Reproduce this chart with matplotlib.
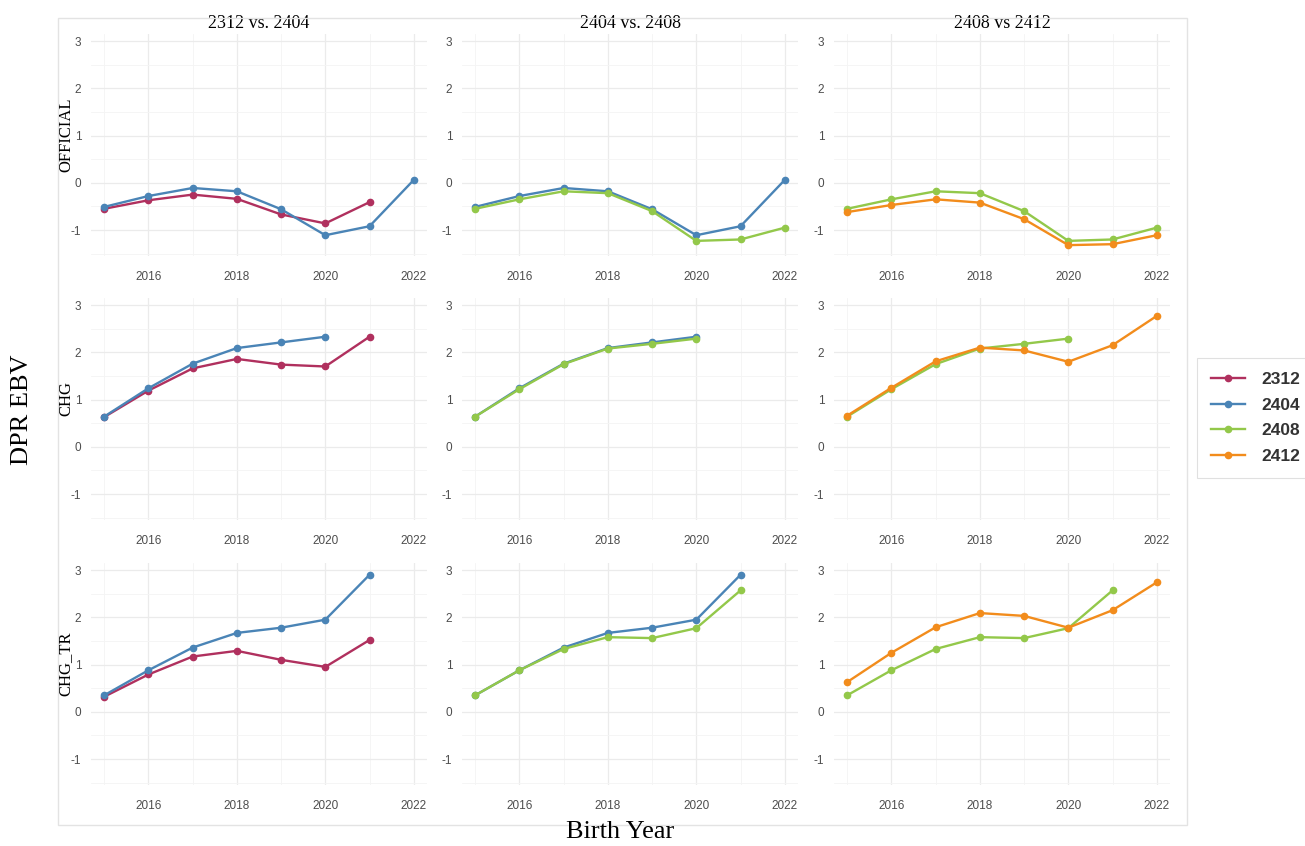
import matplotlib
matplotlib.use('Agg')
import matplotlib.pyplot as plt
from matplotlib.patches import Rectangle
from matplotlib.ticker import MultipleLocator

plt.rcParams['axes.unicode_minus'] = False  # plain hyphen like the original

# data
years = [2015, 2016, 2017, 2018, 2019, 2020, 2021, 2022]

official_2312 = [-0.55, -0.37, -0.25, -0.34, -0.67, -0.86, -0.41]
official_2404 = [-0.51, -0.28, -0.11, -0.18, -0.56, -1.11, -0.92, 0.06]
official_2408 = [-0.55, -0.35, -0.18, -0.22, -0.60, -1.23, -1.20, -0.95]
official_2412 = [-0.62, -0.47, -0.35, -0.42, -0.77, -1.32, -1.30, -1.11]

chg_2312 = [0.63, 1.19, 1.66, 1.86, 1.74, 1.70, 2.33]
chg_2404 = [0.64, 1.24, 1.76, 2.09, 2.21, 2.33]
chg_2408 = [0.64, 1.22, 1.75, 2.08, 2.18, 2.29]
chg_2412 = [0.66, 1.25, 1.81, 2.10, 2.04, 1.80, 2.15, 2.77]

chgtr_2312 = [0.32, 0.79, 1.17, 1.29, 1.10, 0.95, 1.52]
chgtr_2404 = [0.35, 0.88, 1.36, 1.67, 1.78, 1.95, 2.90]
chgtr_2408 = [0.35, 0.88, 1.33, 1.58, 1.56, 1.77, 2.57]
chgtr_2412 = [0.63, 1.25, 1.79, 2.09, 2.03, 1.78, 2.15, 2.74]

col_titles = ['2312 vs. 2404', '2404 vs. 2408', '2408 vs 2412']
row_titles = ['OFFICIAL', 'CHG', 'CHG_TR']
runs = ['2312', '2404', '2408', '2412']
colors = {'2312': '#B0305E', '2404': '#4A84B6', '2408': '#93C84A', '2412': '#F28C1C'}

data = {
    'OFFICIAL': {'2312': official_2312, '2404': official_2404, '2408': official_2408, '2412': official_2412},
    'CHG': {'2312': chg_2312, '2404': chg_2404, '2408': chg_2408, '2412': chg_2412},
    'CHG_TR': {'2312': chgtr_2312, '2404': chgtr_2404, '2408': chgtr_2408, '2412': chgtr_2412},
}
pairs = [('2312', '2404'), ('2404', '2408'), ('2408', '2412')]

W, H = 1305, 846
fig = plt.figure(figsize=(W / 100, H / 100), dpi=100)

col_x = [(91, 427), (462, 798), (834, 1170)]
row_y = [(34, 256), (298, 520), (563, 785)]

# light frame around the panel block
fig.patches.append(Rectangle((58 / W, 1 - 825 / H), (1187 - 58) / W, (825 - 18) / H,
                             transform=fig.transFigure, fill=False, edgecolor='#E3E3E3', lw=1))

handles = {}
for r, row in enumerate(row_titles):
    for c, pair in enumerate(pairs):
        x0, x1 = col_x[c]
        y0, y1 = row_y[r]
        ax = fig.add_axes([x0 / W, 1 - y1 / H, (x1 - x0) / W, (y1 - y0) / H])
        for run in pair:
            vals = data[row][run]
            ln, = ax.plot(years[:len(vals)], vals, color=colors[run], lw=1.7,
                          marker='o', ms=4.5, zorder=3)
            handles[run] = ln
        ax.set_xlim(2014.7, 2022.3)
        ax.set_ylim(-1.55, 3.15)
        ax.set_xticks([2016, 2018, 2020, 2022])
        ax.set_yticks([-1, 0, 1, 2, 3])
        ax.xaxis.set_minor_locator(MultipleLocator(1))
        ax.yaxis.set_minor_locator(MultipleLocator(0.5))
        ax.grid(which='major', color='#EBEBEB', lw=0.9)
        ax.grid(which='minor', color='#F4F4F4', lw=0.6)
        ax.set_axisbelow(True)
        for s in ax.spines.values():
            s.set_visible(False)
        ax.tick_params(which='both', length=0)
        ax.tick_params(axis='x', pad=11, labelsize=8.5, labelcolor='#4D4D4D')
        ax.tick_params(axis='y', pad=7, labelsize=8.5, labelcolor='#4D4D4D')
        for lab in ax.get_xticklabels() + ax.get_yticklabels():
            lab.set_family('Liberation Sans')
        if r == 0:
            ax.set_title(col_titles[c], family='Liberation Serif', fontsize=13, pad=4)
        if c == 0:
            fig.text(66 / W, 1 - ((y0 + y1) / 2 - 10) / H, row, rotation=90,
                     family='Liberation Serif', fontsize=12, ha='center', va='center')

fig.text(22 / W, 1 - 410 / H, 'DPR EBV', rotation=90, family='Liberation Serif',
         fontsize=19, ha='center', va='center')
fig.text(620 / W, 1 - 832 / H, 'Birth Year', family='Liberation Serif',
         fontsize=19, ha='center', va='center')

leg = fig.legend([handles[k] for k in runs], runs, loc='center left',
                 bbox_to_anchor=(1188 / W, 1 - 418 / H), frameon=True, fancybox=False,
                 prop={'family': 'Liberation Sans', 'size': 12.5, 'weight': 'bold'},
                 handlelength=2.0, handletextpad=0.9, labelspacing=0.6, borderpad=0.8)
leg.get_frame().set_edgecolor('#D9D9D9')
leg.get_frame().set_linewidth(0.8)
for t in leg.get_texts():
    t.set_color('#333333')

fig.savefig('out.png', dpi=100)
